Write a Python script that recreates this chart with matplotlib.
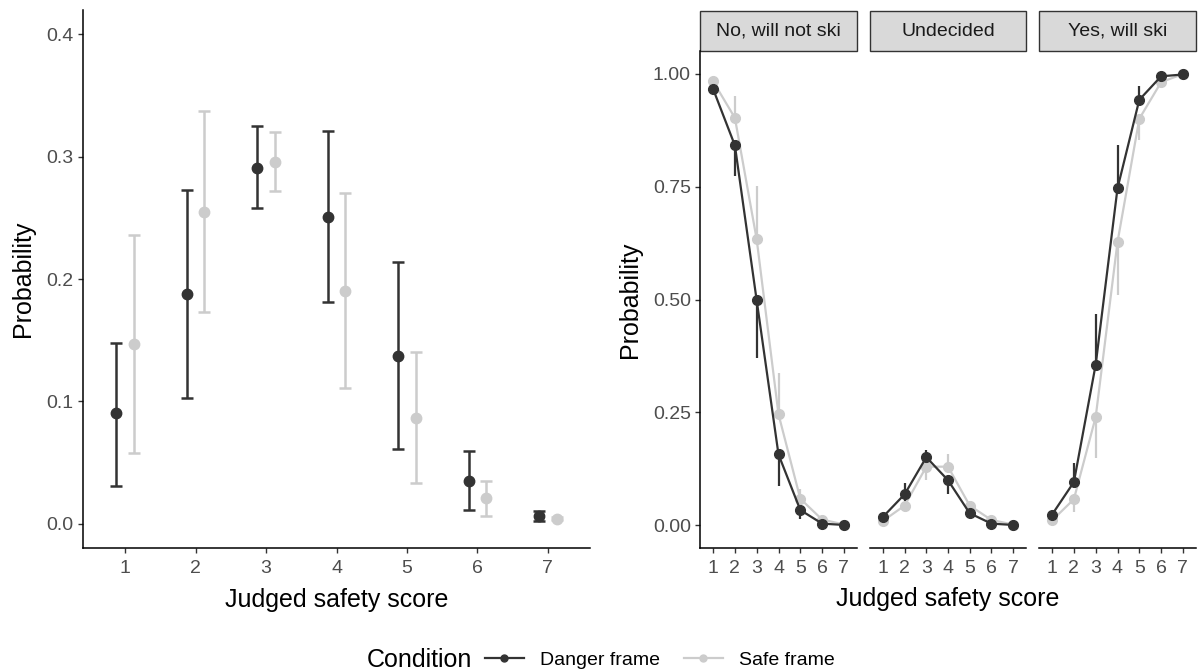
import numpy as np
import matplotlib.pyplot as plt
from matplotlib.patches import Rectangle
from matplotlib.lines import Line2D

plt.rcParams['font.family'] = ['Liberation Sans', 'DejaVu Sans']

# safety scores 1..7
scores = np.arange(1, 8)

# left panel: probability of each judged score, with intervals
danger_p = [0.090, 0.188, 0.291, 0.251, 0.137, 0.035, 0.006]
danger_lo = [0.031, 0.103, 0.258, 0.181, 0.061, 0.011, 0.002]
danger_hi = [0.148, 0.273, 0.325, 0.321, 0.214, 0.059, 0.010]
safe_p = [0.147, 0.255, 0.296, 0.190, 0.086, 0.021, 0.004]
safe_lo = [0.058, 0.173, 0.272, 0.111, 0.033, 0.006, 0.003]
safe_hi = [0.236, 0.337, 0.320, 0.270, 0.140, 0.035, 0.005]

# right panel: probability of each decision by judged score
decisions = ["No, will not ski", "Undecided", "Yes, will ski"]
no_danger = [0.966, 0.841, 0.498, 0.157, 0.034, 0.004, 0.001]
no_danger_lo = [0.955, 0.773, 0.371, 0.088, 0.015, 0.002, 0.000]
no_danger_hi = [0.966, 0.841, 0.498, 0.157, 0.034, 0.004, 0.001]
no_safe = [0.983, 0.902, 0.633, 0.246, 0.059, 0.013, 0.002]
no_safe_lo = [0.983, 0.902, 0.633, 0.246, 0.059, 0.013, 0.002]
no_safe_hi = [0.990, 0.951, 0.751, 0.338, 0.080, 0.020, 0.003]

und_danger = [0.019, 0.069, 0.151, 0.100, 0.027, 0.004, 0.001]
und_danger_lo = [0.015, 0.055, 0.140, 0.069, 0.020, 0.003, 0.001]
und_danger_hi = [0.022, 0.093, 0.168, 0.100, 0.027, 0.004, 0.001]
und_safe = [0.010, 0.044, 0.130, 0.130, 0.044, 0.012, 0.002]
und_safe_lo = [0.008, 0.029, 0.100, 0.130, 0.044, 0.012, 0.002]
und_safe_hi = [0.010, 0.044, 0.130, 0.157, 0.054, 0.014, 0.002]

yes_danger = [0.024, 0.096, 0.356, 0.746, 0.942, 0.994, 0.998]
yes_danger_lo = [0.024, 0.096, 0.356, 0.746, 0.942, 0.994, 0.998]
yes_danger_hi = [0.028, 0.139, 0.469, 0.843, 0.973, 0.996, 0.999]
yes_safe = [0.011, 0.058, 0.240, 0.627, 0.900, 0.981, 0.999]
yes_safe_lo = [0.008, 0.029, 0.150, 0.509, 0.854, 0.975, 0.998]
yes_safe_hi = [0.011, 0.058, 0.240, 0.627, 0.900, 0.981, 0.999]

facets = [
    (no_danger, no_danger_lo, no_danger_hi, no_safe, no_safe_lo, no_safe_hi),
    (und_danger, und_danger_lo, und_danger_hi, und_safe, und_safe_lo, und_safe_hi),
    (yes_danger, yes_danger_lo, yes_danger_hi, yes_safe, yes_safe_lo, yes_safe_hi),
]

DARK = "#333333"
LIGHT = "#cccccc"
TICK_COL = "#4d4d4d"

W, H = 1198, 672
fig = plt.figure(figsize=(W / 100, H / 100), dpi=100)


def px_rect(x0, x1, ytop, ybot):
    return [x0 / W, 1 - ybot / H, (x1 - x0) / W, (ybot - ytop) / H]


def style_axis(ax, show_y=True):
    for s in ["top", "right"]:
        ax.spines[s].set_visible(False)
    ax.spines["bottom"].set_linewidth(1.1)
    ax.spines["left"].set_linewidth(1.1)
    ax.spines["left"].set_visible(show_y)
    ax.tick_params(axis="both", length=3.6, width=1.0, color=DARK,
                   labelcolor=TICK_COL, labelsize=14, pad=3)
    ax.tick_params(axis="x", pad=5)
    if not show_y:
        ax.tick_params(axis="y", left=False, labelleft=False)


# ---- left panel ----
ax = fig.add_axes(px_rect(83, 590, 10, 548))
dodge = 0.125
for p, lo, hi, col, off in [(danger_p, danger_lo, danger_hi, DARK, -dodge),
                            (safe_p, safe_lo, safe_hi, LIGHT, dodge)]:
    p = np.array(p)
    yerr = [p - np.array(lo), np.array(hi) - p]
    ax.errorbar(scores + off, p, yerr=yerr, fmt="o", color=col, ms=7.5,
                elinewidth=1.8, capsize=4, capthick=1.8)
ax.set_xlim(0.4, 7.6)
ax.set_ylim(-0.02, 0.42)
ax.set_xticks(scores)
ax.set_yticks([0.0, 0.1, 0.2, 0.3, 0.4])
ax.set_yticklabels(["0.0", "0.1", "0.2", "0.3", "0.4"])
style_axis(ax)
ax.set_xlabel("Judged safety score", fontsize=18, labelpad=8)
ax.set_ylabel("Probability", fontsize=18, labelpad=8)

# ---- right panel, one facet per decision ----
facet_x = [(700, 857), (870, 1026), (1039, 1196)]
for i, ((x0, x1), name, data) in enumerate(zip(facet_x, decisions, facets)):
    fa = fig.add_axes(px_rect(x0, x1, 51, 548))
    d, d_lo, d_hi, s, s_lo, s_hi = data
    for m, lo, hi, col in [(s, s_lo, s_hi, LIGHT), (d, d_lo, d_hi, DARK)]:
        fa.vlines(scores, lo, hi, color=col, lw=1.6)
        fa.plot(scores, m, "-o", color=col, lw=1.6, ms=7)
    fa.set_xlim(0.4, 7.6)
    fa.set_ylim(-0.05, 1.05)
    fa.set_xticks(scores)
    fa.set_yticks([0, 0.25, 0.5, 0.75, 1.0])
    fa.set_yticklabels(["0.00", "0.25", "0.50", "0.75", "1.00"])
    style_axis(fa, show_y=(i == 0))
    if i == 0:
        fa.set_ylabel("Probability", fontsize=18, labelpad=8)
    # facet strip
    fa.add_patch(Rectangle((0, 1.0), 1, 0.08, transform=fa.transAxes,
                           facecolor="#d9d9d9", edgecolor=DARK, lw=1.0,
                           clip_on=False))
    fa.text(0.5, 1.04, name, transform=fa.transAxes, ha="center",
            va="center", fontsize=14, color="#1a1a1a")

fig.text(948 / W, 1 - 599 / H, "Judged safety score", ha="center",
         va="center", fontsize=18)

# ---- legend ----
fig.text(367 / W, 1 - 660 / H, "Condition", ha="left", va="center",
         fontsize=18)
handles = [Line2D([], [], color=DARK, marker="o", ms=5, lw=1.6),
           Line2D([], [], color=LIGHT, marker="o", ms=5, lw=1.6)]
fig.legend(handles, ["Danger frame", "Safe frame"], loc="center left",
           bbox_to_anchor=(485 / W, 1 - 660 / H), ncol=2, frameon=False,
           fontsize=14, handlelength=2.0, handletextpad=0.85,
           columnspacing=1.2, borderpad=0, borderaxespad=0)

fig.savefig("out.png", dpi=100)
